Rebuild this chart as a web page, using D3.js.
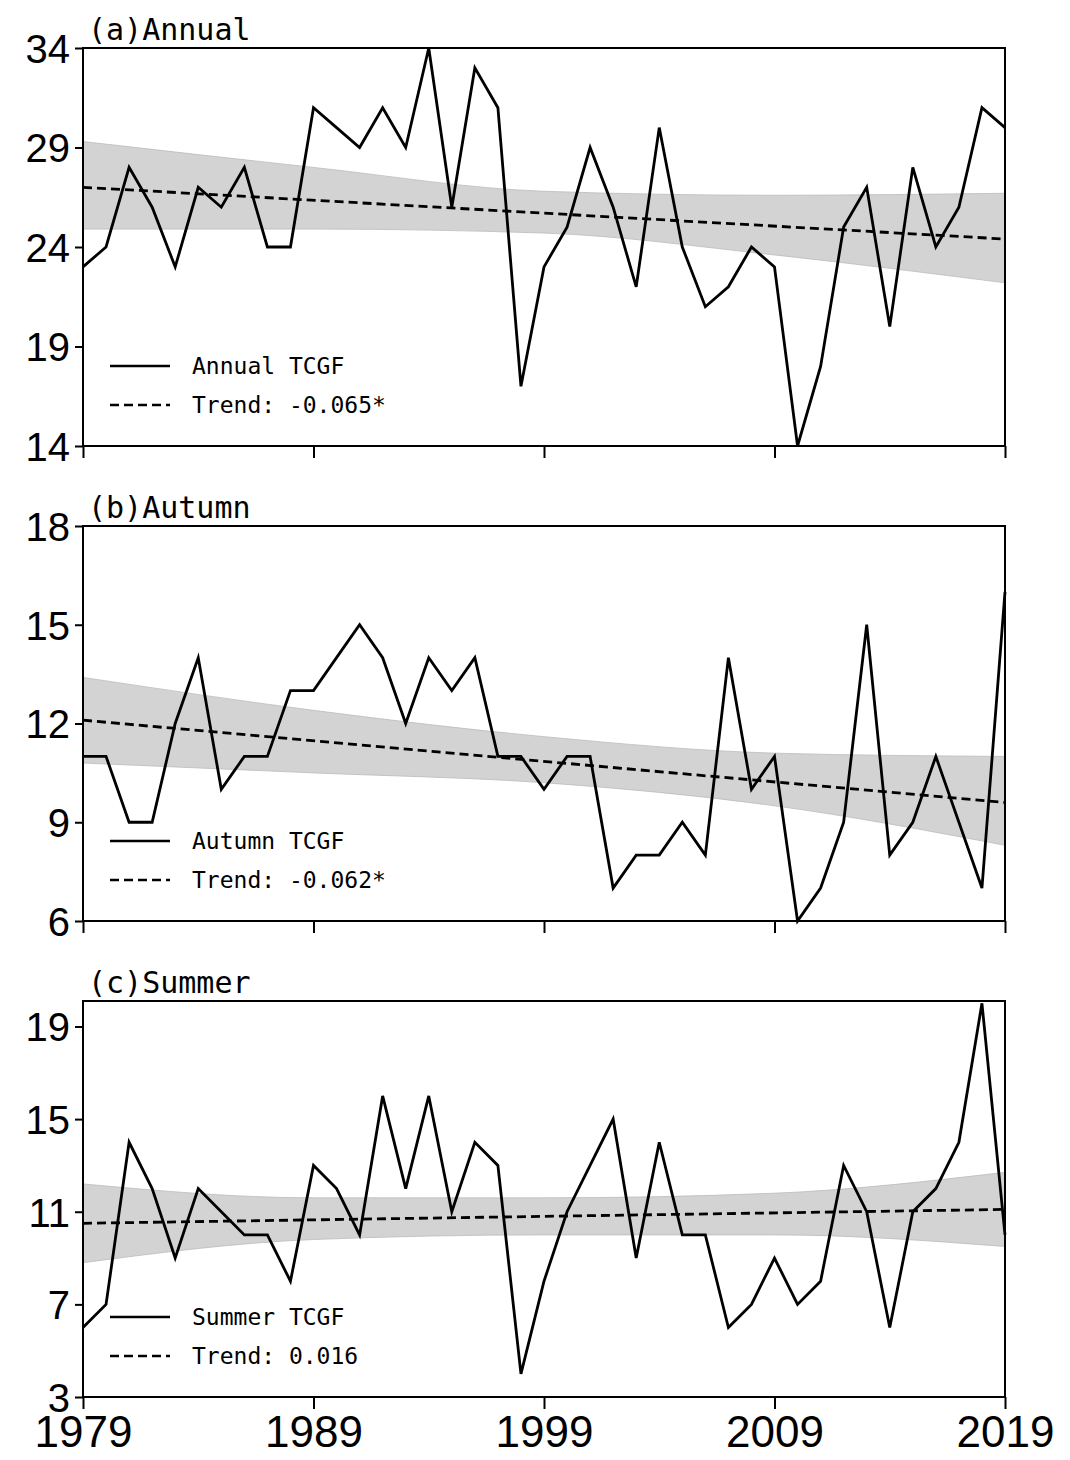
<!DOCTYPE html>
<html><head><meta charset="utf-8">
<script src="https://cdn.jsdelivr.net/npm/d3@7"></script>
<style>body{margin:0;background:#fff}</style></head>
<body><svg id="c" width="1070" height="1460"></svg>
<script>
const years = d3.range(1979, 2020);
const annual = [23,24,28,26,23,27,26,28,24,24,31,30,29,31,29,34,26,33,31,17,23,25,29,26,22,30,24,21,22,24,23,14,18,25,27,20,28,24,26,31,30];
const autumn = [11,11,9,9,12,14,10,11,11,13,13,14,15,14,12,14,13,14,11,11,10,11,11,7,8,8,9,8,14,10,11,6,7,9,15,8,9,11,9,7,16];
const summer = [6,7,14,12,9,12,11,10,10,8,13,12,10,16,12,16,11,14,13,4,8,11,13,15,9,14,10,10,6,7,9,7,8,13,11,6,11,12,14,20,10];
const bandYears = [1979,1989,1999,2009,2019];
const annualUpper = [29.3,28.0,26.8,26.6,26.7];
const annualLower = [24.9,24.9,24.7,23.6,22.2];
const autumnUpper = [13.4,12.4,11.6,11.1,11.0];
const autumnLower = [10.8,10.5,10.2,9.5,8.3];
const summerUpper = [12.2,11.6,11.6,11.8,12.7];
const summerLower = [8.8,9.8,10.0,10.0,9.5];
const trends = {annual:[27.0,24.4], autumn:[12.1,9.6], summer:[10.5,11.1]};
const xTicks = [1979,1989,1999,2009,2019];

const svg = d3.select("#c");
const x = d3.scaleLinear().domain([1979,2019]).range([83,1005]);
const panels = [
 {title:"(a)Annual", data:annual, up:annualUpper, lo:annualLower, tr:trends.annual, dom:[14,34], ticks:[14,19,24,29,34], top:48, bot:446, lab:["Annual TCGF","Trend: -0.065*"], xl:false},
 {title:"(b)Autumn", data:autumn, up:autumnUpper, lo:autumnLower, tr:trends.autumn, dom:[6,18], ticks:[6,9,12,15,18], top:526, bot:921, lab:["Autumn TCGF","Trend: -0.062*"], xl:false},
 {title:"(c)Summer", data:summer, up:summerUpper, lo:summerLower, tr:trends.summer, dom:[3,20.1], ticks:[3,7,11,15,19], top:1001, bot:1397, lab:["Summer TCGF","Trend: 0.016"], xl:true}
];
panels.forEach(p=>{
  const y = d3.scaleLinear().domain(p.dom).range([p.bot,p.top]);
  const g = svg.append("g");
  const band = bandYears.map((yr,i)=>({yr,u:p.up[i],l:p.lo[i]}));
  g.append("path").datum(band).attr("fill","#d3d3d3").attr("stroke","#bbb").attr("stroke-width",0.8)
   .attr("d",d3.area().curve(d3.curveMonotoneX).x(d=>x(d.yr)).y0(d=>y(d.l)).y1(d=>y(d.u)));
  g.append("path").datum(p.data).attr("fill","none").attr("stroke","#000").attr("stroke-width",2.8)
   .attr("d",d3.line().x((d,i)=>x(years[i])).y(d=>y(d)));
  g.append("line").attr("x1",x(1979)).attr("x2",x(2019)).attr("y1",y(p.tr[0])).attr("y2",y(p.tr[1]))
   .attr("stroke","#000").attr("stroke-width",2.8).attr("stroke-dasharray","9,5");
  g.append("rect").attr("x",83).attr("y",p.top).attr("width",922).attr("height",p.bot-p.top)
   .attr("fill","none").attr("stroke","#000").attr("stroke-width",2);
  const ya = g.append("g").attr("transform","translate(83,0)")
   .call(d3.axisLeft(y).tickValues(p.ticks).tickSize(8).tickFormat(d3.format("d")));
  ya.select(".domain").remove();
  ya.selectAll("text").attr("font-family","Liberation Sans Narrow, Liberation Sans").attr("font-size",40).attr("fill","#000").attr("dx",-2).attr("dy","0.36em");
  ya.selectAll("line").attr("stroke-width",2);
  const xa = g.append("g").attr("transform",`translate(0,${p.bot})`)
   .call(d3.axisBottom(x).tickValues(xTicks).tickSize(12).tickFormat(p.xl?d3.format("d"):""));
  xa.select(".domain").remove();
  xa.selectAll("line").attr("stroke-width",2);
  xa.selectAll("text").attr("font-family","Liberation Sans Narrow, Liberation Sans").attr("font-size",44).attr("fill","#000").attr("dy","0.8em");
  g.append("text").attr("x",88).attr("y",p.top-8).attr("font-family","DejaVu Sans Mono").attr("font-size",30).text(p.title);
  const ly = p.bot-80;
  [0,1].forEach(i=>{
    g.append("line").attr("x1",110).attr("x2",170).attr("y1",ly+i*39).attr("y2",ly+i*39)
     .attr("stroke","#000").attr("stroke-width",2.5).attr("stroke-dasharray",i?"9,5":null);
    g.append("text").attr("x",192).attr("y",ly+i*39+8).attr("font-family","DejaVu Sans Mono").attr("font-size",23).text(p.lab[i]);
  });
});
</script></body></html>
